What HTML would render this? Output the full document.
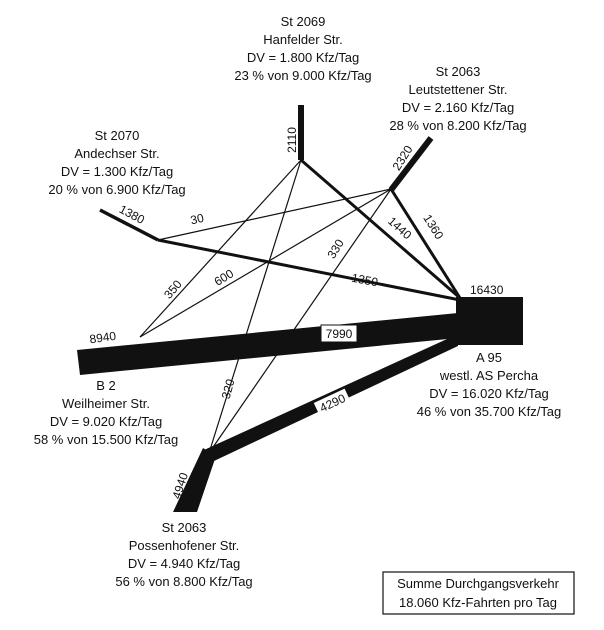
<!DOCTYPE html>
<html><head><meta charset="utf-8"><style>
html,body{margin:0;padding:0;background:#fff;}
svg{display:block;}
text{font-family:"Liberation Sans",sans-serif;fill:#111;}
.l{font-size:13px;text-anchor:middle;}
.n{font-family:"Liberation Sans",sans-serif;font-size:12px;}
</style></head><body>
<svg width="604" height="630" viewBox="0 0 604 630" xmlns="http://www.w3.org/2000/svg">
<rect width="604" height="630" fill="#fff"/>
<g stroke="#111" fill="none" stroke-linecap="butt">
<line x1="301" y1="160" x2="140" y2="337" stroke-width="1.2"/>
<line x1="301" y1="160" x2="209" y2="453" stroke-width="1.2"/>
<line x1="391" y1="189" x2="140" y2="337" stroke-width="1.2"/>
<line x1="391" y1="189" x2="209" y2="453" stroke-width="1.2"/>
<line x1="158" y1="240" x2="391" y2="189" stroke-width="1.2"/>
<line x1="301" y1="160" x2="460" y2="298" stroke-width="3"/>
<line x1="391" y1="189" x2="460" y2="298" stroke-width="3"/>
<line x1="158" y1="240" x2="460" y2="300" stroke-width="3"/>
<line x1="100" y1="210" x2="158" y2="240" stroke-width="3.5"/>
<line x1="301" y1="105" x2="301" y2="160" stroke-width="6"/>
<line x1="431" y1="138" x2="391" y2="190" stroke-width="6"/>
</g>
<polygon points="77,350 458,313 458,338 80,375" fill="#111"/>
<polygon points="204,450 458,334 458,346 214,461" fill="#111"/>
<polygon points="203,448 216,456 197,512 173,512" fill="#111"/>
<rect x="456" y="297" width="67" height="48" fill="#111"/>
<rect x="321" y="325" width="36" height="17" fill="#fff" stroke="#111"/>
<text class="n" x="339" y="338" text-anchor="middle">7990</text>
<g transform="translate(333,404) rotate(-25)"><rect x="-17" y="-9" width="34" height="15" fill="#fff"/><text class="n" x="0" y="3" text-anchor="middle">4290</text></g>
<text class="n" x="470" y="294">16430</text>
<text class="n" x="90" y="342" transform="rotate(-8 100 342)">8940</text>
<g transform="translate(296,140) rotate(-90)"><text class="n" x="0" y="0" text-anchor="middle">2110</text></g>
<g transform="translate(406,160) rotate(-58)"><text class="n" x="0" y="0" text-anchor="middle">2320</text></g>
<g transform="translate(130,218) rotate(28)"><text class="n" x="0" y="0" text-anchor="middle">1380</text></g>
<g transform="translate(198,223) rotate(-13)"><text class="n" x="0" y="0" text-anchor="middle">30</text></g>
<g transform="translate(176,292) rotate(-50)"><text class="n" x="0" y="0" text-anchor="middle">350</text></g>
<g transform="translate(226,281) rotate(-32)"><text class="n" x="0" y="0" text-anchor="middle">600</text></g>
<g transform="translate(339,251) rotate(-58)"><text class="n" x="0" y="0" text-anchor="middle">330</text></g>
<g transform="translate(397,231) rotate(42)"><text class="n" x="0" y="0" text-anchor="middle">1440</text></g>
<g transform="translate(430,229) rotate(58)"><text class="n" x="0" y="0" text-anchor="middle">1360</text></g>
<g transform="translate(364,284) rotate(11)"><text class="n" x="0" y="0" text-anchor="middle">1350</text></g>
<g transform="translate(232,390) rotate(-75)"><text class="n" x="0" y="0" text-anchor="middle">320</text></g>
<g transform="translate(184,487) rotate(-72)"><text class="n" x="0" y="0" text-anchor="middle">4940</text></g>
<text class="l" x="303" y="26">St 2069</text>
<text class="l" x="303" y="44">Hanfelder Str.</text>
<text class="l" x="303" y="62">DV = 1.800 Kfz/Tag</text>
<text class="l" x="303" y="80">23 % von 9.000 Kfz/Tag</text>
<text class="l" x="458" y="76">St 2063</text>
<text class="l" x="458" y="94">Leutstettener Str.</text>
<text class="l" x="458" y="112">DV = 2.160 Kfz/Tag</text>
<text class="l" x="458" y="130">28 % von 8.200 Kfz/Tag</text>
<text class="l" x="117" y="140">St 2070</text>
<text class="l" x="117" y="158">Andechser Str.</text>
<text class="l" x="117" y="176">DV = 1.300 Kfz/Tag</text>
<text class="l" x="117" y="194">20 % von 6.900 Kfz/Tag</text>
<text class="l" x="106" y="390">B 2</text>
<text class="l" x="106" y="408">Weilheimer Str.</text>
<text class="l" x="106" y="426">DV = 9.020 Kfz/Tag</text>
<text class="l" x="106" y="444">58 % von 15.500 Kfz/Tag</text>
<text class="l" x="489" y="362">A 95</text>
<text class="l" x="489" y="380">westl. AS Percha</text>
<text class="l" x="489" y="398">DV = 16.020 Kfz/Tag</text>
<text class="l" x="489" y="416">46 % von 35.700 Kfz/Tag</text>
<text class="l" x="184" y="532">St 2063</text>
<text class="l" x="184" y="550">Possenhofener Str.</text>
<text class="l" x="184" y="568">DV = 4.940 Kfz/Tag</text>
<text class="l" x="184" y="586">56 % von 8.800 Kfz/Tag</text>
<rect x="383" y="572" width="191" height="42" fill="none" stroke="#111" stroke-width="1.2"/>
<text class="l" x="478" y="588">Summe Durchgangsverkehr</text>
<text class="l" x="478" y="607">18.060 Kfz-Fahrten pro Tag</text>
</svg>
</body></html>
